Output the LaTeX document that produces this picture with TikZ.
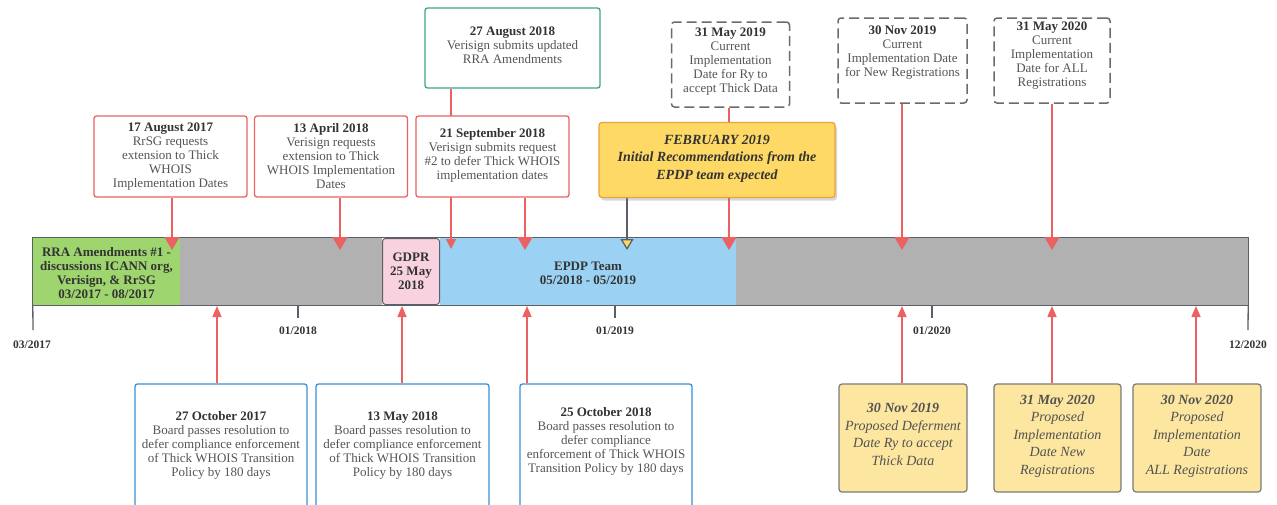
\documentclass[tikz,border=0pt]{standalone}
\usepackage{fontspec}
\setmainfont{Liberation Serif}
\usetikzlibrary{arrows.meta,shadows}
\definecolor{redc}{HTML}{EB6262}
\definecolor{tealc}{HTML}{3AA68E}
\definecolor{bluebx}{HTML}{3C8FD4}
\definecolor{dashc}{HTML}{6B6B6B}
\definecolor{greenf}{HTML}{9ED56F}
\definecolor{grayf}{HTML}{B1B1B1}
\definecolor{bluef}{HTML}{9BD2F3}
\definecolor{pinkf}{HTML}{F9D2DF}
\definecolor{barln}{HTML}{5B6068}
\definecolor{febf}{HTML}{FFD966}
\definecolor{febd}{HTML}{EDA13A}
\definecolor{yelf}{HTML}{FCE6A0}
\definecolor{yeld}{HTML}{7A7A7A}
\definecolor{ttlc}{HTML}{333333}
\definecolor{bodyc}{HTML}{555555}
\newcommand\evtitle[1]{\textcolor{ttlc}{\textbf{#1}}}
\newcommand\dnsp[1]{\rule[-#1]{0pt}{#1}}
\pgfdeclarelayer{bg}
\pgfdeclarelayer{mid}
\pgfsetlayers{bg,mid,main}
\begin{document}
\begin{tikzpicture}[x=1pt,y=-1pt,
  every node/.style={font=\fontsize{13}{14}\selectfont, text=bodyc, align=center},
  redbox/.style={draw=redc, line width=1.3pt, rounded corners=2.5pt, fill=white, inner sep=1pt, minimum width=153pt, minimum height=81pt},
  tealbox/.style={draw=tealc, line width=1.3pt, rounded corners=2.5pt, fill=white, inner sep=1pt},
  dashbox/.style={draw=dashc, line width=1.5pt, dash pattern=on 10pt off 5pt, rounded corners=3pt, fill=white, inner sep=1pt, minimum height=85pt},
  bluebox/.style={draw=bluebx, line width=1.3pt, rounded corners=2.5pt, fill=white, inner sep=1pt, minimum height=126pt},
  yelbox/.style={draw=yeld, line width=1.2pt, rounded corners=3pt, fill=yelf, inner sep=1pt, minimum height=108pt, font=\fontsize{14}{17.5}\selectfont\itshape, text=ttlc!85},
  febbox/.style={draw=febd, line width=1.3pt, rounded corners=3pt, fill=febf, inner sep=1pt, minimum width=236pt, minimum height=75pt, font=\fontsize{14}{17.5}\selectfont\bfseries\itshape, text=ttlc, drop shadow={shadow xshift=2pt, shadow yshift=-3pt, opacity=0.3}},
  seg/.style={draw=none, inner sep=0pt, minimum height=67pt, font=\fontsize{13}{14}\selectfont\bfseries, text=ttlc},
  ticklbl/.style={font=\fontsize{11.5}{13}\selectfont\bfseries, text=ttlc},
  tickln/.style={draw=barln, line width=1.3pt},
  redarrow/.style={draw=redc, line width=1.5pt, -{Triangle[width=15pt,length=13pt]}},
  redsmall/.style={draw=redc, line width=1.5pt, -{Triangle[width=10pt,length=10pt]}},
  uparrow/.style={draw=redc, line width=1.5pt, -{Triangle[width=9pt,length=11pt]}},
  febarrow/.style={draw=barln, line width=1.3pt, -{Triangle[width=13pt,length=11pt,fill=febf]}}
]
\useasboundingbox (0,0) rectangle (1277,504);

% ---- timeline bar ----
\begin{pgfonlayer}{bg}
\fill[white] (0,0) rectangle (1277,504);
\node[seg, fill=greenf, minimum width=147pt] (sgreen) at (106.5,271.5) {\rule{0pt}{13pt}RRA Amendments \#1 -\\discussions ICANN org,\\Verisign, \& RrSG\\03/2017 - 08/2017};
\node[seg, fill=grayf, minimum width=202pt] (sgray1) at (281,271.5) {};
\node[seg, fill=bluef, minimum width=296pt] (sblue) at (588,271.5) {\rule{0pt}{13pt}EPDP Team\\05/2018 - 05/2019};
\node[seg, fill=grayf, minimum width=512pt] (sgray2) at (992,271.5) {};
\node[seg, fill=pinkf, draw=barln, line width=1pt, rounded corners=3pt, minimum width=57pt, minimum height=66pt] (gdpr) at (411,271.5) {GDPR\\25 May\\2018};
\draw[barln, line width=1.3pt] (sgreen.north west) rectangle (sgray2.south east);
% ticks
\coordinate (k0) at (33,330);
\coordinate (k1) at (298,318);
\coordinate (k2) at (615,318);
\coordinate (k3) at (932,318);
\coordinate (k4) at (1248,330);
\draw[tickln] (sgreen.south west) -- (k0);
\draw[tickln] (sgray1.south -| k1) -- (k1);
\draw[tickln] (sblue.south -| k2) -- (k2);
\draw[tickln] (sgray2.south -| k3) -- (k3);
\draw[tickln] (sgray2.south east) -- (k4);
\end{pgfonlayer}
\node[ticklbl] (l0) at (32,345) {03/2017};
\node[ticklbl] (l1) at (298,331) {01/2018};
\node[ticklbl] (l2) at (615,331) {01/2019};
\node[ticklbl] (l3) at (932,331) {01/2020};
\node[ticklbl] (l4) at (1248,345) {12/2020};

% ---- top events ----
\node[redbox] (e17aug) at (170.5,156.5) {\evtitle{17 August 2017}\\RrSG requests\\extension to Thick\\WHOIS\\Implementation Dates};
\node[redbox] (e13apr) at (331,156.5) {\evtitle{13 April 2018}\\Verisign requests\\extension to Thick\\WHOIS Implementation\\Dates};
\node[redbox] (e21sep) at (492.5,156.5) {\evtitle{21 September 2018}\\Verisign submits request\\\#2 to defer Thick WHOIS\\implementation dates\dnsp{5pt}};
\node[tealbox, minimum width=175pt, minimum height=80pt] (e27aug) at (512.5,48) {\evtitle{27 August 2018}\\Verisign submits updated\\RRA Amendments\dnsp{6pt}};
\node[febbox] (feb) at (717,160) {FEBRUARY 2019\\Initial Recommendations from the\\EPDP team expected\dnsp{6pt}};
\node[dashbox, minimum width=118pt] (m19) at (730.5,64.5) {\evtitle{31 May 2019}\\Current\\Implementation\\Date for Ry to\\accept Thick Data\dnsp{9pt}};
\node[dashbox, minimum width=129pt] (n19) at (902.5,60.5) {\evtitle{30 Nov 2019}\\Current\\Implementation Date\\for New Registrations\dnsp{18pt}};
\node[dashbox, minimum width=116pt] (m20) at (1052,60.5) {\evtitle{31 May 2020}\\Current\\Implementation\\Date for ALL\\Registrations\dnsp{12pt}};

% ---- bottom events ----
\node[bluebox, minimum width=172pt] (o17) at (221,447) {\evtitle{27 October 2017}\\Board passes resolution to\\defer compliance enforcement\\of Thick WHOIS Transition\\Policy by 180 days\dnsp{6pt}};
\node[bluebox, minimum width=173pt] (y18) at (402.5,447) {\evtitle{13 May 2018}\\Board passes resolution to\\defer compliance enforcement\\of Thick WHOIS Transition\\Policy by 180 days\dnsp{6pt}};
\node[bluebox, minimum width=172pt] (o18) at (606,447) {\evtitle{25 October 2018}\\Board passes resolution to\\defer compliance\\enforcement of Thick WHOIS\\Transition Policy by 180 days\dnsp{14pt}};
\node[yelbox, minimum width=128pt] (p19) at (903,438) {\textbf{30 Nov 2019}\\Proposed Deferment\\Date Ry to accept\\Thick Data\dnsp{7pt}};
\node[yelbox, minimum width=127pt] (p20a) at (1057.5,438) {\textbf{31 May 2020}\\Proposed\\Implementation\\Date New\\Registrations\dnsp{7pt}};
\node[yelbox, minimum width=128pt] (p20b) at (1197,438) {\textbf{30 Nov 2020}\\Proposed\\Implementation\\Date\\ALL Registrations\dnsp{7pt}};

% ---- connectors ----
\begin{pgfonlayer}{mid}
\coordinate (a1) at (172,250);
\coordinate (a2) at (340,250);
\coordinate (a3) at (451,249);
\coordinate (a4) at (525,250);
\coordinate (a5) at (627,250);
\coordinate (a6) at (729,250);
\coordinate (a7) at (902,250);
\coordinate (a8) at (1052,250);
\draw[redarrow] (e17aug.south -| a1) -- (a1);
\draw[redarrow] (e13apr.south -| a2) -- (a2);
\draw[redsmall] (e27aug.south -| a3) -- (a3);
\draw[redarrow] (e21sep.south -| a4) -- (a4);
\draw[febarrow] (feb.south -| a5) -- (a5);
\draw[redarrow] (m19.south -| a6) -- (a6);
\draw[redarrow] (n19.south -| a7) -- (a7);
\draw[redarrow] (m20.south -| a8) -- (a8);
\coordinate (b1) at (217,306);
\coordinate (b2) at (402,306);
\coordinate (b3) at (527,306);
\coordinate (b4) at (902,306);
\coordinate (b5) at (1052,306);
\coordinate (b6) at (1196,306);
\draw[uparrow] (o17.north -| b1) -- (b1);
\draw[uparrow] (y18.north -| b2) -- (b2);
\draw[uparrow] (o18.north -| b3) -- (b3);
\draw[uparrow] (p19.north -| b4) -- (b4);
\draw[uparrow] (p20a.north -| b5) -- (b5);
\draw[uparrow] (p20b.north -| b6) -- (b6);
\end{pgfonlayer}
\end{tikzpicture}
\end{document}
